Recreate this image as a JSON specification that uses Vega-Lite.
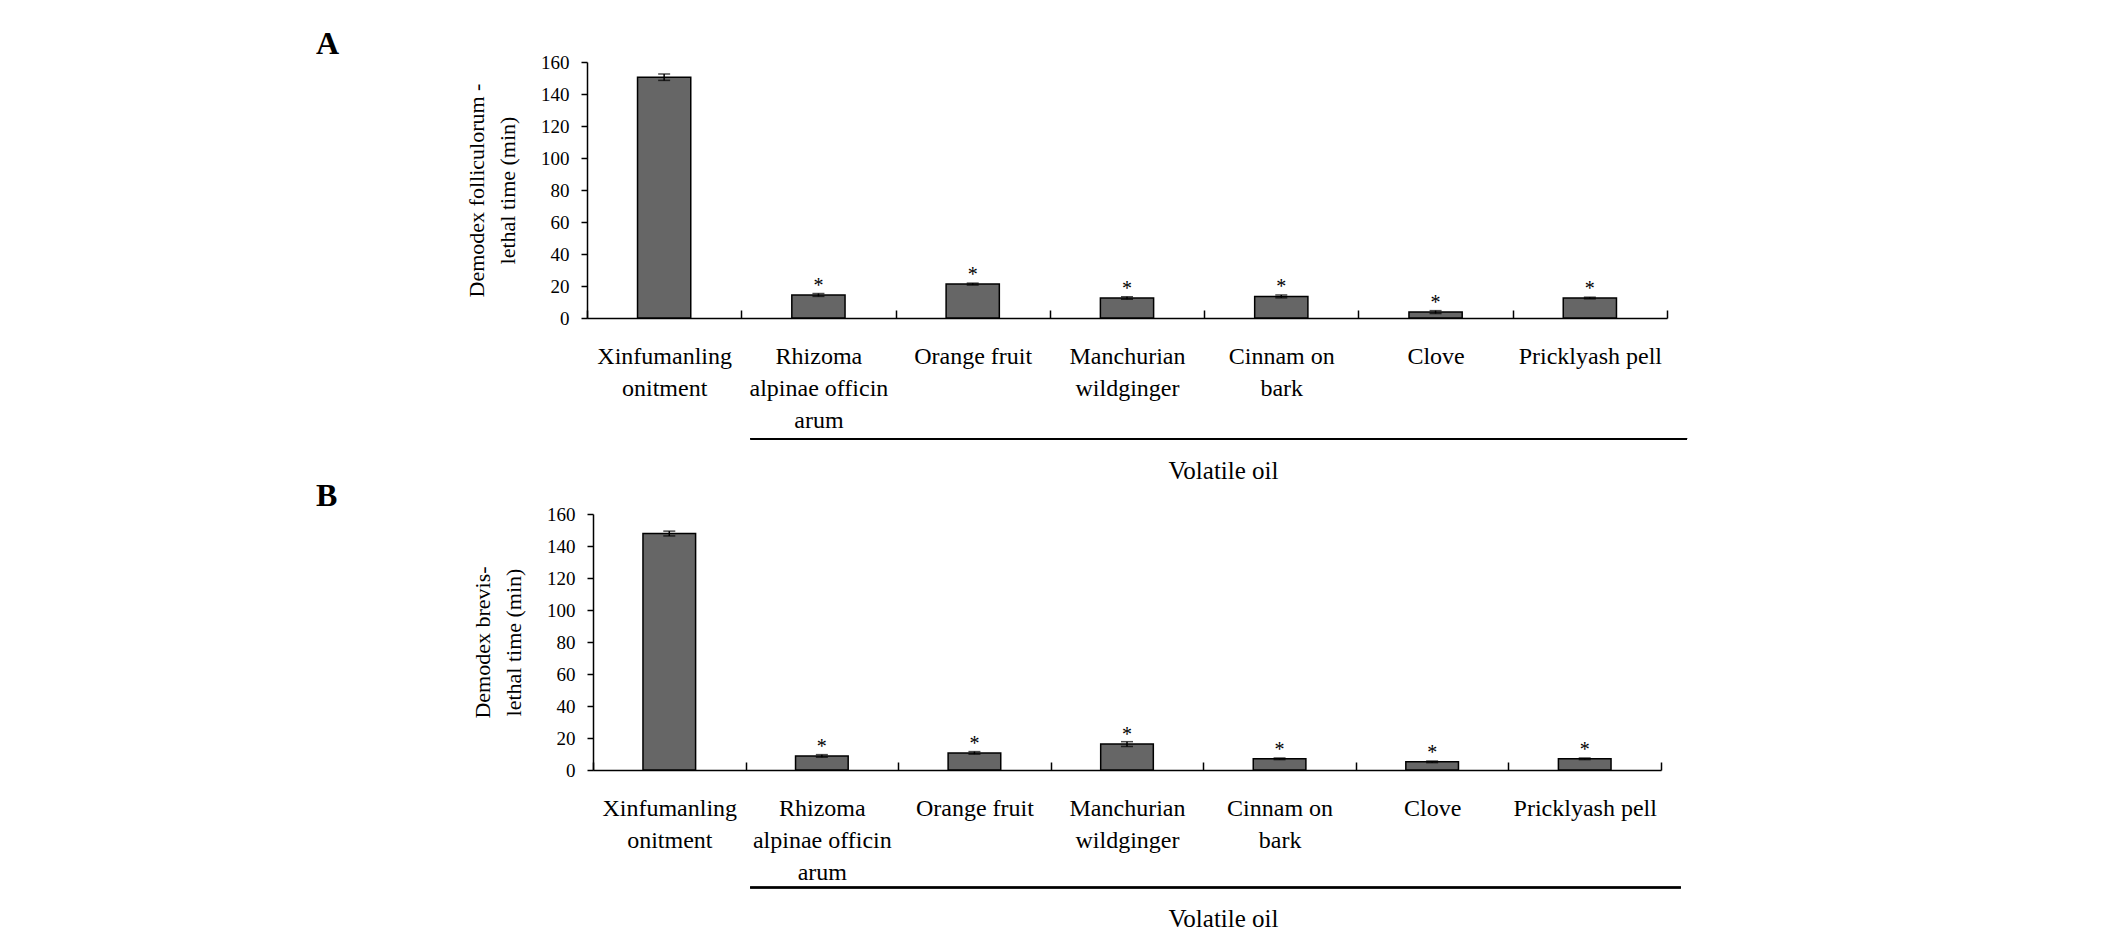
{
  "$schema": "https://vega.github.io/schema/vega-lite/v6.json",
  "background": "white",
  "padding": {"left": 316, "top": 28, "right": 0, "bottom": 0},
  "bounds": "flush",
  "center": true,
  "spacing": 196,
  "config": {
    "view": {"stroke": null},
    "font": "Liberation Serif",
    "title": {"font": "Liberation Serif"},
    "text": {"font": "Liberation Serif"},
    "axis": {"domainColor": "black", "tickColor": "black", "labelColor": "black", "titleColor": "black", "domainWidth": 1.5, "tickWidth": 1.5, "grid": false, "labelFont": "Liberation Serif", "titleFont": "Liberation Serif", "titleFontWeight": "normal"}
  },
  "vconcat": [
    {
      "width": 1080,
      "height": 256,
      "title": {"text": "A", "anchor": "start", "frame": "group", "dx": -271, "fontSize": 32, "font": "Liberation Serif", "fontWeight": "bold", "offset": -8, "color": "black"},
      "data": {"values": [
        {"cat": "Xinfumanling|onitment", "mean": 150.5, "err": 2.0, "sig": ""},
        {"cat": "Rhizoma|alpinae officin|arum", "mean": 14.4, "err": 0.9, "sig": "*"},
        {"cat": "Orange fruit", "mean": 21.2, "err": 0.6, "sig": "*"},
        {"cat": "Manchurian|wildginger", "mean": 12.5, "err": 0.8, "sig": "*"},
        {"cat": "Cinnam on|bark", "mean": 13.5, "err": 0.9, "sig": "*"},
        {"cat": "Clove", "mean": 3.7, "err": 0.9, "sig": "*"},
        {"cat": "Pricklyash pell", "mean": 12.5, "err": 0.5, "sig": "*"}
      ]},
      "encoding": {
        "x": {"field": "cat", "type": "nominal", "sort": null,
          "scale": {"domain": ["Xinfumanling|onitment", "Rhizoma|alpinae officin|arum", "Orange fruit", "Manchurian|wildginger", "Cinnam on|bark", "Clove", "Pricklyash pell"], "paddingInner": 0, "paddingOuter": 0},
          "axis": {"title": "Volatile oil", "titleFont": "Liberation Serif", "titleFontSize": 25, "titleX": 636, "titleY": 152, "titleBaseline": "middle", "titleAnchor": null,
            "labelExpr": "datum.value ? split(datum.value, '|') : ''", "labelAngle": 0, "labelFont": "Liberation Serif", "labelFontSize": 24, "labelLineHeight": 32, "labelBaseline": "top", "labelPadding": 34, "labelOverlap": false, "labelLimit": 300,
            "tickBand": "extent", "tickSize": -8}},
        "y": {"field": "mean", "type": "quantitative", "scale": {"domain": [0, 160]},
           "axis": {"values": [0, 20, 40, 60, 80, 100, 120, 140, 160], "tickSize": 6, "labelFontSize": 19, "labelPadding": 12,
             "title": ["Demodex folliculorum -", "lethal time (min)"], "titleFontSize": 22, "titleLineHeight": 31, "titlePadding": 21}}
      },
      "layer": [
        {"mark": {"type": "bar", "fill": "#666666", "stroke": "black", "strokeWidth": 1.5, "width": {"band": 0.345}}},
        {"mark": {"type": "errorbar", "ticks": {"size": 12, "thickness": 1.5, "color": "black"}, "rule": {"strokeWidth": 1.5, "color": "black"}},
         "encoding": {"yError": {"field": "err"}}},
        {"mark": {"type": "text", "fontSize": 20, "baseline": "alphabetic", "dy": -3, "color": "black"},
         "encoding": {"text": {"field": "sig"}}},
        {"mark": {"type": "rule", "strokeWidth": 1.5, "color": "black"},
         "encoding": {"x": {"datum": "Rhizoma|alpinae officin|arum", "bandPosition": 0.06}, "x2": {"datum": "Pricklyash pell", "bandPosition": 1.13}, "y": {"datum": -75.5}}}
      ]
    },
    {
      "width": 1068,
      "height": 256,
      "title": {"text": "B", "anchor": "start", "frame": "group", "dx": -277, "fontSize": 32, "font": "Liberation Serif", "fontWeight": "bold", "offset": -8, "color": "black"},
      "data": {"values": [
        {"cat": "Xinfumanling|onitment", "mean": 147.8, "err": 1.5, "sig": ""},
        {"cat": "Rhizoma|alpinae officin|arum", "mean": 8.8, "err": 0.8, "sig": "*"},
        {"cat": "Orange fruit", "mean": 10.7, "err": 0.8, "sig": "*"},
        {"cat": "Manchurian|wildginger", "mean": 16.2, "err": 1.5, "sig": "*"},
        {"cat": "Cinnam on|bark", "mean": 7.0, "err": 0.5, "sig": "*"},
        {"cat": "Clove", "mean": 5.1, "err": 0.5, "sig": "*"},
        {"cat": "Pricklyash pell", "mean": 7.0, "err": 0.5, "sig": "*"}
      ]},
      "encoding": {
        "x": {"field": "cat", "type": "nominal", "sort": null,
          "scale": {"domain": ["Xinfumanling|onitment", "Rhizoma|alpinae officin|arum", "Orange fruit", "Manchurian|wildginger", "Cinnam on|bark", "Clove", "Pricklyash pell"], "paddingInner": 0, "paddingOuter": 0},
          "axis": {"title": "Volatile oil", "titleFont": "Liberation Serif", "titleFontSize": 25, "titleX": 630, "titleY": 148, "titleBaseline": "middle", "titleAnchor": null,
            "labelExpr": "datum.value ? split(datum.value, '|') : ''", "labelAngle": 0, "labelFont": "Liberation Serif", "labelFontSize": 24, "labelLineHeight": 32, "labelBaseline": "top", "labelPadding": 34, "labelOverlap": false, "labelLimit": 300,
            "tickBand": "extent", "tickSize": -8}},
        "y": {"field": "mean", "type": "quantitative", "scale": {"domain": [0, 160]},
           "axis": {"values": [0, 20, 40, 60, 80, 100, 120, 140, 160], "tickSize": 6, "labelFontSize": 19, "labelPadding": 12,
             "title": ["Demodex brevis-", "lethal time (min)"], "titleFontSize": 22, "titleLineHeight": 31, "titlePadding": 21}}
      },
      "layer": [
        {"mark": {"type": "bar", "fill": "#666666", "stroke": "black", "strokeWidth": 1.5, "width": {"band": 0.345}}},
        {"mark": {"type": "errorbar", "ticks": {"size": 12, "thickness": 1.5, "color": "black"}, "rule": {"strokeWidth": 1.5, "color": "black"}},
         "encoding": {"yError": {"field": "err"}}},
        {"mark": {"type": "text", "fontSize": 20, "baseline": "alphabetic", "dy": -3, "color": "black"},
         "encoding": {"text": {"field": "sig"}}},
        {"mark": {"type": "rule", "strokeWidth": 1.5, "color": "black"},
         "encoding": {"x": {"datum": "Rhizoma|alpinae officin|arum", "bandPosition": 0.03}, "x2": {"datum": "Pricklyash pell", "bandPosition": 1.13}, "y": {"datum": -73.5}}}
      ]
    }
  ]
}
